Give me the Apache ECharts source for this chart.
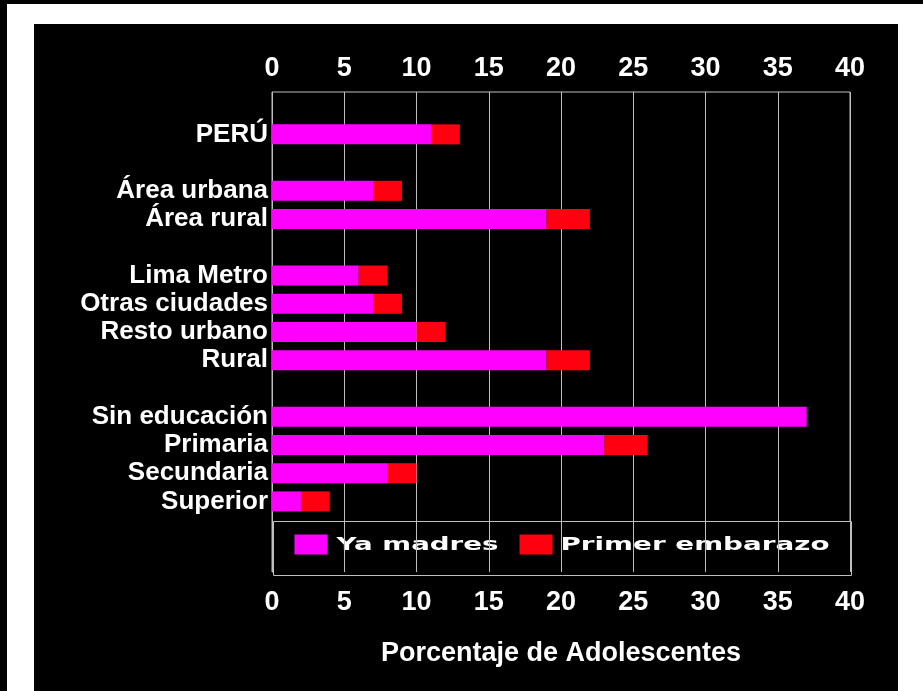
<!DOCTYPE html>
<html lang="es">
<head>
    <meta charset="utf-8">
    <title>Adolescentes madres o embarazadas</title>
    <script src="https://cdn.jsdelivr.net/npm/echarts@6.0.0/dist/echarts.min.js"></script>
    <style type="text/css">
        body {
            margin: 0;
            background: #ffffff;
        }

        #frame {
            position: absolute;
            left: 0;
            top: 0;
            width: 923px;
            height: 691px;
            box-sizing: border-box;
            border-top: 4px solid #000;
            border-left: 7px solid #000;
            background: #ffffff;
        }

        #main {
            position: absolute;
            left: 34px;
            top: 24px;
            width: 864px;
            height: 667px;
        }
    </style>
</head>
<body>
<div id="frame"></div>
<div id="main"></div>
<script type="text/javascript">
    // categorias (de arriba hacia abajo) y su agrupacion
    const categories = ['PERÚ', 'Área urbana', 'Área rural', 'Lima Metro', 'Otras ciudades',
        'Resto urbano', 'Rural', 'Sin educación', 'Primaria', 'Secundaria', 'Superior'];
    const groupSizes = [1, 2, 4, 4];
    const yaMadres = [11, 7, 19, 6, 7, 10, 19, 37, 23, 8, 2];
    const primerEmbarazo = [2, 2, 3, 2, 2, 2, 3, 0, 3, 2, 2];
    const xTicks = [0, 5, 10, 15, 20, 25, 30, 35, 40];
    const seriesNames = ['Ya madres', 'Primer embarazo'];
    const seriesColors = ['#ff00ff', '#ff0010'];

    // filas con huecos entre grupos (una fila vacia arriba, dos abajo para la leyenda)
    let rows = [''], madresRows = ['-'], embarazoRows = ['-'];
    let k = 0;
    groupSizes.forEach(function (n, g) {
        if (g > 0) {
            rows.push(' '.repeat(g));
            madresRows.push('-');
            embarazoRows.push('-');
        }
        for (let i = 0; i < n; i++, k++) {
            rows.push(categories[k]);
            madresRows.push(yaMadres[k]);
            embarazoRows.push(primerEmbarazo[k]);
        }
    });
    rows.push('     ', '      ');
    madresRows.push('-', '-');
    embarazoRows.push('-', '-');

    const FONT = "'Liberation Sans', Arial, Helvetica, sans-serif";
    const LEGEND_FONT = "'DejaVu Sans', Verdana, sans-serif";

    // ancho del texto de la leyenda (letras muy espaciadas en el original)
    function legendScale(text, target) {
        let ctx = document.createElement('canvas').getContext('2d');
        ctx.font = 'bold 18px ' + LEGEND_FONT;
        return target / ctx.measureText(text).width;
    }

    let chart = echarts.init(document.getElementById('main'));
    let labelStyle = {color: '#ffffff', fontSize: 26, fontWeight: 'bold', fontFamily: FONT};
    let tickStyle = Object.assign({}, labelStyle, {fontSize: 27});

    chart.setOption({
        backgroundColor: '#000000',
        animation: false,
        grid: {
            left: 238, right: 48, top: 68, bottom: 119,
            show: true, borderColor: '#bfbfbf', borderWidth: 1,
            backgroundColor: 'transparent'
        },
        xAxis: [{
            type: 'value', position: 'bottom', min: 0, max: 40, interval: 5,
            axisLine: {show: false}, axisTick: {show: false},
            axisLabel: Object.assign({margin: 17, customValues: xTicks}, tickStyle),
            splitLine: {show: true, lineStyle: {color: '#bfbfbf', width: 1}},
            name: 'Porcentaje de Adolescentes', nameLocation: 'middle', nameGap: 68,
            nameTextStyle: tickStyle
        }, {
            type: 'value', position: 'top', min: 0, max: 40, interval: 5,
            axisLine: {show: false}, axisTick: {show: false},
            axisLabel: Object.assign({margin: 10, customValues: xTicks}, tickStyle),
            splitLine: {show: false}
        }],
        yAxis: {
            type: 'category', inverse: true, data: rows,
            axisLine: {show: false}, axisTick: {show: false},
            axisLabel: Object.assign({margin: 4, interval: 0}, labelStyle),
            splitLine: {show: false}
        },
        series: [{
            name: seriesNames[0], type: 'bar', stack: 'total', barWidth: 20,
            itemStyle: {color: seriesColors[0]}, data: madresRows
        }, {
            name: seriesNames[1], type: 'bar', stack: 'total', barWidth: 20,
            itemStyle: {color: seriesColors[1]}, data: embarazoRows
        }],
        graphic: [{
            type: 'group', left: 239, top: 497, z: 100,
            children: [{
                type: 'rect', shape: {x: 0, y: 0, width: 578, height: 54},
                style: {fill: '#000000', stroke: '#bfbfbf', lineWidth: 1}
            }, {
                type: 'rect', shape: {x: 21, y: 13, width: 33, height: 20},
                style: {fill: seriesColors[0]}
            }, {
                type: 'text', x: 63, y: 24, scaleX: legendScale(seriesNames[0], 162),
                style: {
                    text: seriesNames[0], fill: '#ffffff', font: 'bold 18px ' + LEGEND_FONT,
                    verticalAlign: 'middle'
                }
            }, {
                type: 'rect', shape: {x: 246, y: 13, width: 33, height: 20},
                style: {fill: seriesColors[1]}
            }, {
                type: 'text', x: 287, y: 24, scaleX: legendScale(seriesNames[1], 269),
                style: {
                    text: seriesNames[1], fill: '#ffffff', font: 'bold 18px ' + LEGEND_FONT,
                    verticalAlign: 'middle'
                }
            }]
        }]
    });
</script>
</body>
</html>
